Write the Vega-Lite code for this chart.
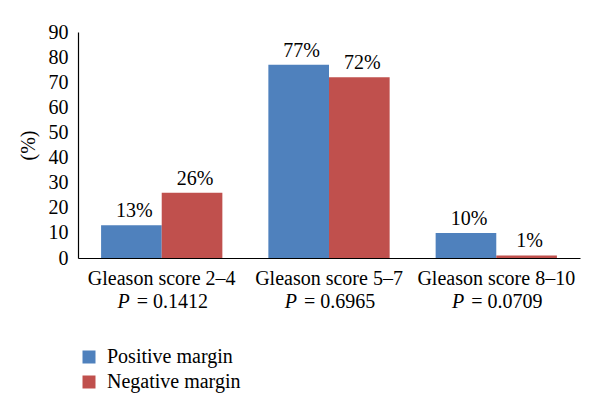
{
  "$schema": "https://vega.github.io/schema/vega-lite/v6.json",
  "autosize": "none",
  "width": 502,
  "height": 226,
  "padding": {"left": 78, "top": 32, "right": 20, "bottom": 159},
  "background": "white",
  "config": {
    "view": {"stroke": null},
    "font": "Liberation Serif",
    "axis": {"grid": false, "ticks": false, "domainColor": "#000", "domainWidth": 1.2, "labelColor": "#000", "titleColor": "#000", "labelFont": "Liberation Serif", "titleFont": "Liberation Serif"},
    "axisY": {"labelOverlap": false, "labelFlush": false, "labelFontSize": 20, "labelPadding": 10, "titleFontSize": 20, "titleFontWeight": "normal", "titlePadding": 10},
    "text": {"font": "Liberation Serif", "fontSize": 20, "color": "#000"}
  },
  "data": {
    "values": [
      {"group": "Gleason score 2–4", "series": "Positive margin", "value": 13, "label": "13%"},
      {"group": "Gleason score 2–4", "series": "Negative margin", "value": 26, "label": "26%"},
      {"group": "Gleason score 5–7", "series": "Positive margin", "value": 77, "label": "77%"},
      {"group": "Gleason score 5–7", "series": "Negative margin", "value": 72, "label": "72%"},
      {"group": "Gleason score 8–10", "series": "Positive margin", "value": 10, "label": "10%"},
      {"group": "Gleason score 8–10", "series": "Negative margin", "value": 1, "label": "1%"}
    ]
  },
  "layer": [
    {
      "mark": {"type": "bar"},
      "encoding": {
        "x": {"field": "group", "type": "nominal", "sort": null,
          "scale": {"paddingInner": 0.275, "paddingOuter": 0.138},
          "axis": {"title": null, "labelAngle": 0, "labelFontSize": 20, "labelPadding": 10, "labelOverlap": false}},
        "xOffset": {"field": "series", "type": "nominal", "sort": ["Positive margin", "Negative margin"], "scale": {"paddingInner": 0, "paddingOuter": 0}},
        "y": {"field": "value", "type": "quantitative",
          "scale": {"domain": [0, 90], "nice": false},
          "axis": {"title": "(%)", "values": [0,10,20,30,40,50,60,70,80,90]}},
        "color": {"field": "series", "type": "nominal", "sort": ["Positive margin", "Negative margin"],
          "scale": {"domain": ["Positive margin", "Negative margin"], "range": ["#4F81BD", "#C0504D"]},
          "legend": {"title": null, "orient": "none", "legendX": 1, "legendY": 315, "symbolType": "square", "symbolSize": 169, "symbolStrokeWidth": 0, "labelFont": "Liberation Serif", "labelFontSize": 20, "labelColor": "#000", "labelOffset": 8, "rowPadding": 5, "padding": 0}}
      }
    },
    {
      "mark": {"type": "text", "baseline": "alphabetic", "dy": -8, "dx": 3},
      "encoding": {
        "x": {"field": "group", "type": "nominal", "sort": null},
        "xOffset": {"field": "series", "type": "nominal", "sort": ["Positive margin", "Negative margin"]},
        "y": {"field": "value", "type": "quantitative", "axis": {"title": "(%)", "values": [0,10,20,30,40,50,60,70,80,90]}},
        "text": {"field": "label"}
      }
    },
    {
      "data": {"values": [
        {"group": "Gleason score 2–4", "p": "= 0.1412"},
        {"group": "Gleason score 5–7", "p": "= 0.6965"},
        {"group": "Gleason score 8–10", "p": "= 0.0709"}
      ]},
      "mark": {"type": "text", "fontStyle": "italic", "fontSize": 20, "align": "right", "baseline": "middle", "dy": 44, "dx": -32},
      "encoding": {
        "x": {"field": "group", "type": "nominal", "sort": null},
        "y": {"datum": 0, "type": "quantitative", "axis": {"title": "(%)", "values": [0,10,20,30,40,50,60,70,80,90]}},
        "text": {"value": "P"}
      }
    },
    {
      "data": {"values": [
        {"group": "Gleason score 2–4", "p": "= 0.1412"},
        {"group": "Gleason score 5–7", "p": "= 0.6965"},
        {"group": "Gleason score 8–10", "p": "= 0.0709"}
      ]},
      "mark": {"type": "text", "align": "left", "fontSize": 20, "baseline": "middle", "dy": 44, "dx": -25},
      "encoding": {
        "x": {"field": "group", "type": "nominal", "sort": null},
        "y": {"datum": 0, "type": "quantitative", "axis": {"title": "(%)", "values": [0,10,20,30,40,50,60,70,80,90]}},
        "text": {"field": "p"}
      }
    }
  ]
}
